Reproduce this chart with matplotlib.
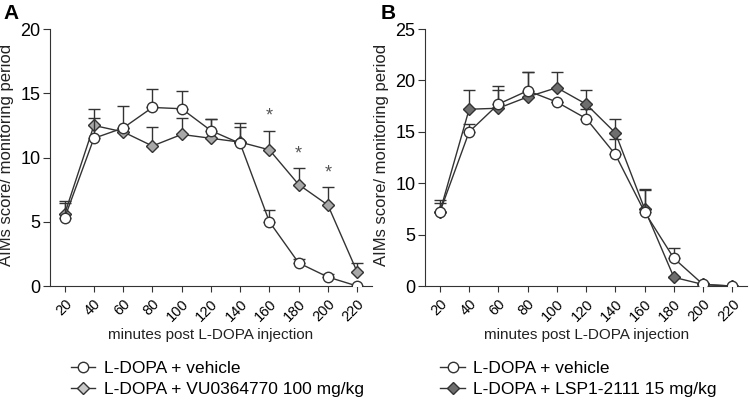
import matplotlib
matplotlib.use("Agg")
import matplotlib.pyplot as plt
from matplotlib.lines import Line2D
import numpy as np

plt.rcParams['font.family'] = ['Liberation Sans', 'DejaVu Sans']

minutes = [20, 40, 60, 80, 100, 120, 140, 160, 180, 200, 220]

# panel A
a_vehicle = [5.3, 11.5, 12.3, 13.9, 13.8, 12.1, 11.1, 5.0, 1.8, 0.7, 0.0]
a_vehicle_err = [1.2, 1.6, 0.0, 1.4, 1.4, 0.9, 1.3, 0.9, 0.3, 0.2, 0.0]
a_vu = [5.6, 12.5, 12.0, 10.9, 11.8, 11.5, 11.2, 10.6, 7.9, 6.3, 1.1]
a_vu_err = [1.0, 1.3, 2.0, 1.5, 1.3, 1.5, 1.5, 1.5, 1.3, 1.4, 0.7]
a_signif = [160, 180, 200]
a_star_y = [13.2, 10.3, 8.8]

# panel B
b_vehicle = [7.2, 15.0, 17.7, 19.0, 17.9, 16.3, 12.8, 7.2, 2.7, 0.15, 0.0]
b_vehicle_err = [0.9, 0.8, 1.8, 1.8, 0.0, 0.9, 1.5, 2.1, 1.0, 0.1, 0.0]
b_lsp = [7.2, 17.2, 17.3, 18.4, 19.3, 17.7, 14.9, 7.5, 0.85, 0.15, 0.0]
b_lsp_err = [1.2, 1.9, 1.8, 2.4, 1.5, 1.4, 1.4, 1.9, 0.0, 0.1, 0.0]

fig = plt.figure(figsize=(7.5, 4.04), dpi=100)
axA = fig.add_axes([0.0667, 0.292, 0.429, 0.636])
axB = fig.add_axes([0.567, 0.292, 0.429, 0.636])


def panel(ax, veh, veh_err, drug, drug_err, drug_color, ymax):
    for y, e, mk, fc, ms, z in [(drug, drug_err, 'D', drug_color, 6.5, 3),
                                 (veh, veh_err, 'o', 'white', 7.5, 4)]:
        ax.errorbar(minutes, y, yerr=[np.zeros(len(e)), e], fmt='none',
                    ecolor='#333333', elinewidth=1, capsize=4, capthick=1, zorder=z - 1)
        ax.plot(minutes, y, color='#333333', lw=1, marker=mk, ms=ms,
                mfc=fc, mec='#333333', mew=1, zorder=z)
    ax.set_xlim(10, 230)
    ax.set_ylim(0, ymax)
    ax.set_yticks(np.arange(0, ymax + 1, 5))
    ax.set_xticks(minutes)
    ax.set_xticklabels([str(m) for m in minutes], rotation=45, ha='right',
                       rotation_mode='anchor', fontsize=10.5)
    ax.tick_params(axis='y', labelsize=13, length=5, color='#333333', pad=2)
    ax.tick_params(axis='x', length=4, color='#333333')
    for s in ['top', 'right']:
        ax.spines[s].set_visible(False)
    for s in ['left', 'bottom']:
        ax.spines[s].set_color('#333333')
    ax.set_ylabel('AIMs score/ monitoring period', fontsize=12, color='#222222')
    ax.yaxis.set_label_coords(-0.112, 0.51)
    ax.set_xlabel('minutes post L-DOPA injection', fontsize=11, color='#222222', labelpad=3)


panel(axA, a_vehicle, a_vehicle_err, a_vu, a_vu_err, '#a8a8a8', 20)
panel(axB, b_vehicle, b_vehicle_err, b_lsp, b_lsp_err, '#6e6e6e', 25)

for x, y in zip(a_signif, a_star_y):
    axA.text(x, y, '*', ha='center', va='center', fontsize=13, color='#555555')

fig.text(0.004, 0.99, 'A', fontsize=15, fontweight='bold', va='top')
fig.text(0.508, 0.99, 'B', fontsize=15, fontweight='bold', va='top')


def handle(mk, fc, ms):
    return Line2D([], [], color='#333333', lw=1, marker=mk, ms=ms, mfc=fc, mec='#333333')


fig.legend([handle('o', 'white', 7.5), handle('D', '#c8c8c8', 6.5)],
           ['L-DOPA + vehicle', 'L-DOPA + VU0364770 100 mg/kg'],
           loc='upper left', bbox_to_anchor=(0.085, 0.125), frameon=False,
           fontsize=12.5, handlelength=1.4, handletextpad=0.5, labelspacing=0.35,
           borderaxespad=0)
fig.legend([handle('o', 'white', 7.5), handle('D', '#6e6e6e', 6.5)],
           ['L-DOPA + vehicle', 'L-DOPA + LSP1-2111 15 mg/kg'],
           loc='upper left', bbox_to_anchor=(0.578, 0.125), frameon=False,
           fontsize=12.5, handlelength=1.4, handletextpad=0.5, labelspacing=0.35,
           borderaxespad=0)

fig.savefig('out.png', dpi=100)
